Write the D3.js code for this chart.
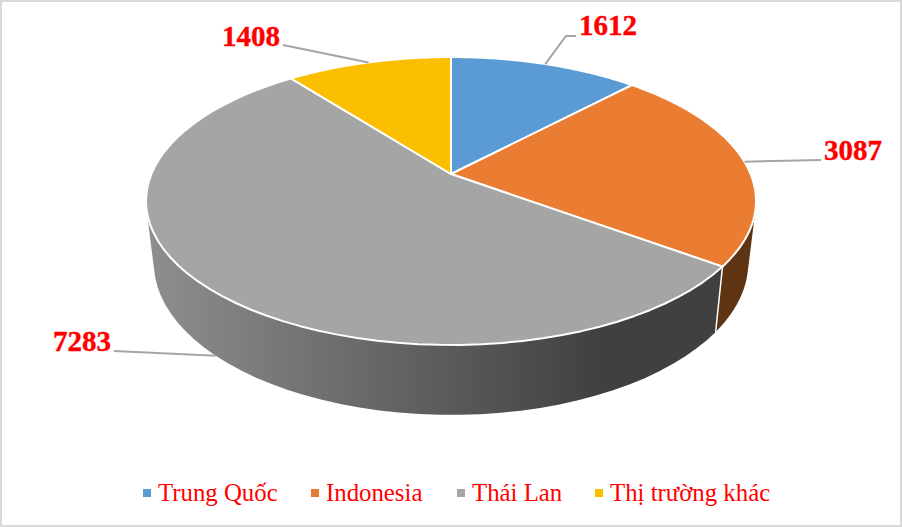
<!DOCTYPE html>
<html>
<head>
<meta charset="utf-8">
<script src="https://cdn.jsdelivr.net/npm/d3@7"></script>
<style>
    html, body { margin: 0; padding: 0; background: #fff; }
    svg { display: block; }
</style>
</head>
<body>
<svg id="chart" width="902" height="527"></svg>
<script>
var categories = ["Trung Quốc", "Indonesia", "Thái Lan", "Thị trường khác"];
var values = [1612, 3087, 7283, 1408];
var colors = ["#5b9bd5", "#eb7d32", "#a5a5a5", "#fcbf00"];
var sideColors = ["#2f5b85", "#5f3413", "url(#thaiSide)", "#7f6000"];

var svg = d3.select("#chart"),
    width = +svg.attr("width"),
    height = +svg.attr("height");

// perspective disc: u,v on the unit circle, p is the perspective strength
var topDisc = { cx: 451, cy: 174, a: 299.6, k: 138.9, p: 0.1875 },
    bottomDisc = { cx: 451, cy: 234, a: 292, k: 147, p: 0.1875 };

function project(disc, angle) {
    var u = Math.sin(angle),
        v = -Math.cos(angle),
        w = 1 - disc.p * v;
    return [disc.cx + disc.a * u / w, disc.cy + disc.k * v / w];
}

function rim(disc, start, end) {
    var pts = d3.range(0, 61).map(function(i) {
        return project(disc, start + (end - start) * i / 60);
    });
    return pts;
}

var pie = d3.pie().sort(null)(values);
var line = d3.line();

svg.append("rect")
    .attr("x", 1).attr("y", 1)
    .attr("width", width - 2).attr("height", height - 2)
    .attr("fill", "#fff")
    .attr("stroke", "#d9d9d9")
    .attr("stroke-width", 2);

var grad = svg.append("defs").append("linearGradient")
    .attr("id", "thaiSide")
    .attr("gradientUnits", "userSpaceOnUse")
    .attr("x1", 150).attr("y1", 0)
    .attr("x2", 600).attr("y2", 0);
grad.append("stop").attr("offset", 0).attr("stop-color", "#8e8e8e");
grad.append("stop").attr("offset", 1).attr("stop-color", "#404040");

// walls first, the top face covers whatever is behind it
svg.append("g").selectAll("path")
    .data(pie)
    .enter().append("path")
    .attr("d", function(d) {
        var pts = rim(topDisc, d.startAngle, d.endAngle)
            .concat(rim(bottomDisc, d.startAngle, d.endAngle));
        return line(d3.polygonHull(pts)) + "Z";
    })
    .attr("fill", function(d, i) { return sideColors[i]; })
    .attr("stroke", "none");

// white edge where the orange and grey walls meet
svg.append("path")
    .attr("d", line([project(topDisc, pie[1].endAngle), project(bottomDisc, pie[1].endAngle)]))
    .attr("stroke", "#fff")
    .attr("stroke-width", 1.5)
    .attr("fill", "none");

svg.append("g").selectAll("path")
    .data(pie)
    .enter().append("path")
    .attr("d", function(d) {
        var pts = [[topDisc.cx, topDisc.cy]].concat(rim(topDisc, d.startAngle, d.endAngle));
        return line(pts) + "Z";
    })
    .attr("fill", function(d, i) { return colors[i]; })
    .attr("stroke", "#fff")
    .attr("stroke-width", 2)
    .attr("stroke-linejoin", "round");

// leader lines start at the middle of each slice, Thai Lan on the lower rim
var labelText = [[579, 35], [824, 160], [53, 351], [222, 46]];
var leaderEnd = [[[566, 36], [576, 36]], [[821, 160]], [[114, 351]], [[283, 45]]];

pie.forEach(function(d, i) {
    var mid = (d.startAngle + d.endAngle) / 2,
        start = project(i == 2 ? bottomDisc : topDisc, mid);
    svg.append("path")
        .attr("d", line([start].concat(leaderEnd[i])))
        .attr("fill", "none")
        .attr("stroke", "#a5a5a5")
        .attr("stroke-width", 2);
    svg.append("text")
        .attr("x", labelText[i][0])
        .attr("y", labelText[i][1])
        .attr("font-family", "'Liberation Serif'")
        .attr("font-weight", "bold")
        .attr("font-size", 29)
        .attr("fill", "#ff0000")
        .attr("stroke", "#ff0000")
        .attr("stroke-width", 0.4)
        .text(values[i]);
});

// legend
var legendX = [143, 311, 457, 595];
var legend = svg.append("g").selectAll("g")
    .data(categories)
    .enter().append("g")
    .attr("transform", function(d, i) { return "translate(" + legendX[i] + ",489)"; });

legend.append("rect")
    .attr("width", 8)
    .attr("height", 8)
    .attr("fill", function(d, i) { return colors[i]; });

legend.append("text")
    .attr("x", 15)
    .attr("y", 12)
    .attr("font-family", "'Liberation Serif'")
    .attr("font-size", 24.8)
    .attr("fill", "#ff0000")
    .text(function(d) { return d; });
</script>
</body>
</html>
